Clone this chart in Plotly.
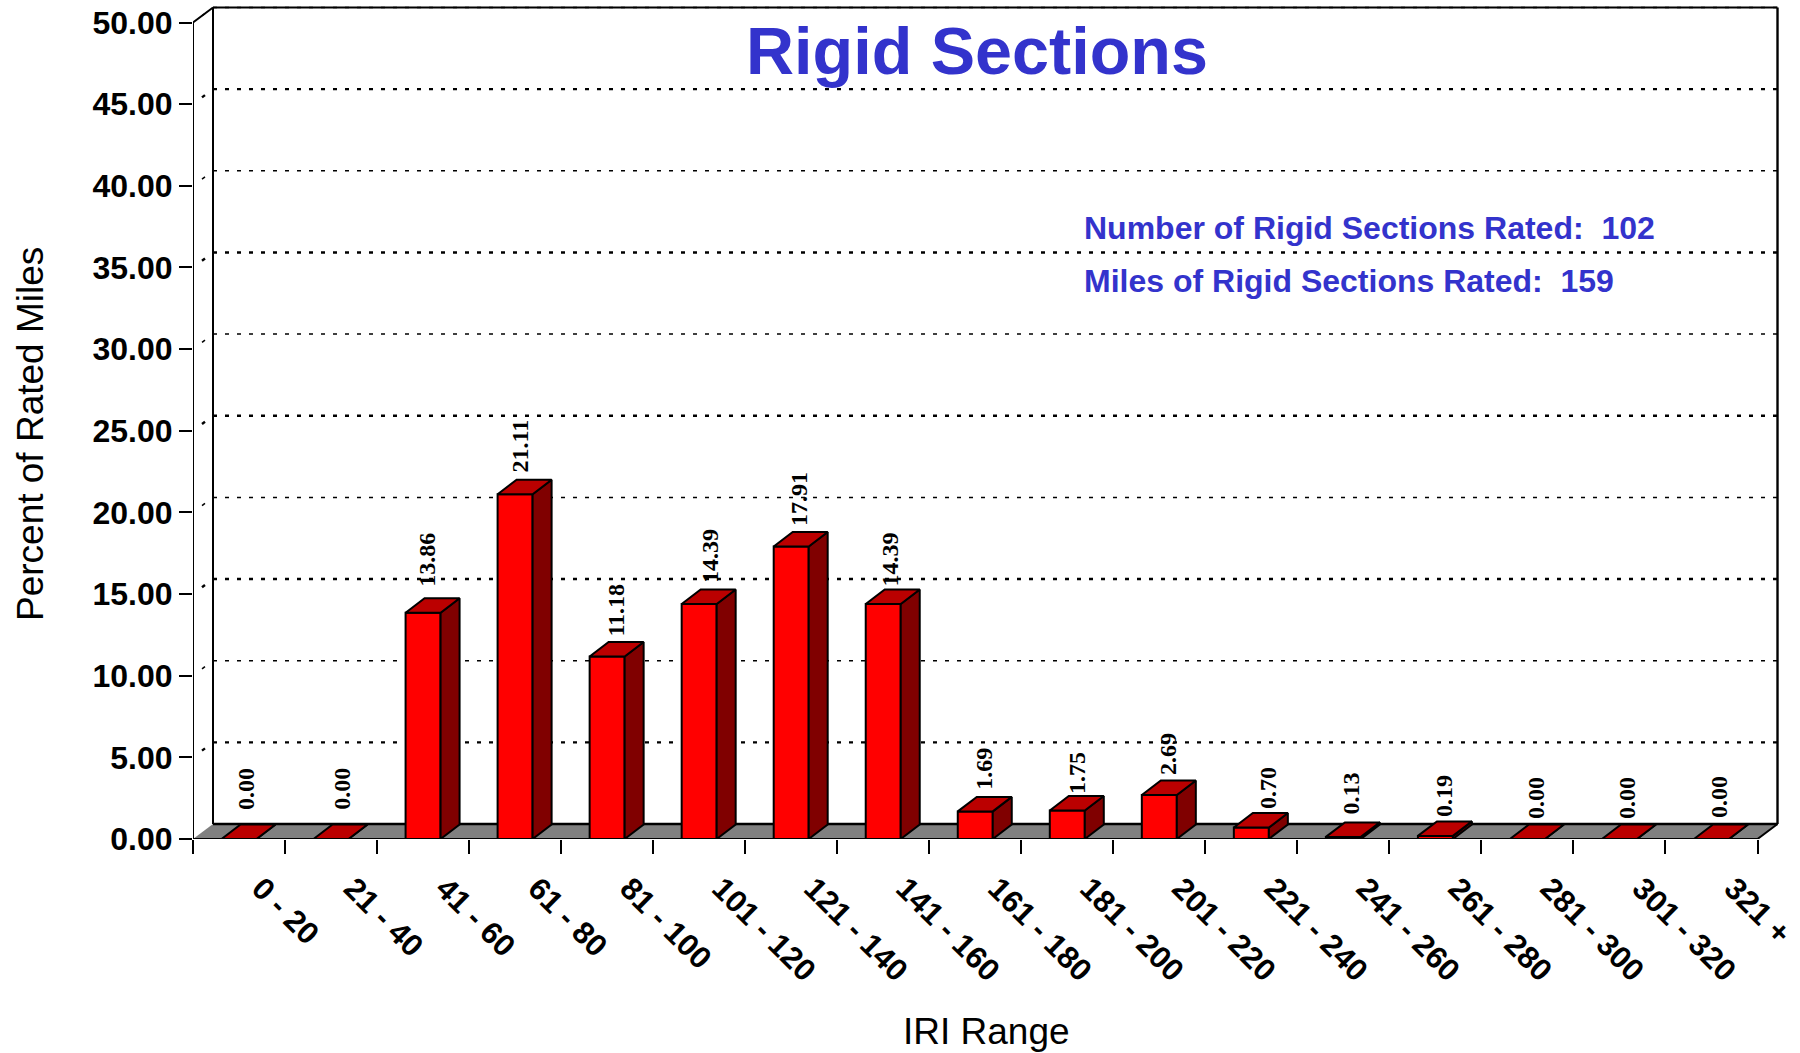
import plotly.graph_objects as go

categories = ["0 - 20", "21 - 40", "41 - 60", "61 - 80", "81 - 100", "101 - 120", "121 - 140", "141 - 160",
              "161 - 180", "181 - 200", "201 - 220", "221 - 240", "241 - 260", "261 - 280", "281 - 300",
              "301 - 320", "321 +"]
percent = [0.00, 0.00, 13.86, 21.11, 11.18, 14.39, 17.91, 14.39, 1.69, 1.75, 2.69, 0.70, 0.13, 0.19, 0.00, 0.00, 0.00]
label_gap = [28, 28, 25, 20.5, 18.5, 20, 19.7, 16.8, 21, 15.2, 19.5, 18, 21.7, 18.4, 19.5, 19.5, 19.5]
label_shift = [7, 10.7, 4, 5, 9, 10.7, 8, 7, 9, 9.6, 8, 16, 8, 8, 8, 7, 7]
y_ticks = [0, 5, 10, 15, 20, 25, 30, 35, 40, 45, 50]

PX_X, PX_Y = 92.03, 16.33
L, R, T, B = 193, 20, 5, 214
W, H = 1800, 1053
XMAX = (W - L - R) / PX_X
YMAX = (H - T - B) / PX_Y
BAR_W = 35 / PX_X
BX, BY = 19 / PX_X, 14.5 / PX_Y      # bar depth
WX, WY = 20 / PX_X, 15 / PX_Y        # chart wall depth
N = len(categories)
RED, DARK, TOP, GRAY, BLUE = "#FF0000", "#800000", "#BB0000", "#808080", "#3333CC"
centers = [i + 0.5 for i in range(N)]

def px(x):
    return (x - L) / (W - L - R)

def py(y):
    return 1 - (y - T) / (H - T - B)

side_x, side_y, top_x, top_y = [], [], [], []
for c, v in zip(centers, percent):
    a, b = c - BAR_W / 2, c + BAR_W / 2
    side_x += [b, b + BX, b + BX, b, b, None]
    side_y += [0, BY, v + BY, v, 0, None]
    top_x += [a, b, b + BX, a + BX, a, None]
    top_y += [v, v, v + BY, v + BY, v, None]

fig = go.Figure()
fig.add_bar(x=centers, y=percent, width=BAR_W, marker=dict(color=RED, line=dict(color="black", width=2)))
fig.add_scatter(x=side_x, y=side_y, mode="lines", fill="toself", fillcolor=DARK, line=dict(color="black", width=2))
fig.add_scatter(x=top_x, y=top_y, mode="lines", fill="toself", fillcolor=TOP, line=dict(color="black", width=2))
# front edges of the chart box, drawn unclipped on the plot border
fig.add_scatter(x=[WX, 0, 0, N, N + WX], y=[50 + WY, 50, 0, 0, WY], mode="lines", cliponaxis=False,
                line=dict(color="black", width=2))

shapes = []
def seg(x0, y0, x1, y1, width=2, dash="solid"):
    shapes.append(dict(type="line", xref="x", yref="y", x0=x0, y0=y0, x1=x1, y1=y1, layer="below",
                       line=dict(color="black", width=width, dash=dash)))

shapes.append(dict(type="path", xref="x", yref="y", layer="below", line=dict(width=0), fillcolor=GRAY,
                   path=f"M0,0 L{N},0 L{N+WX},{WY} L{WX},{WY} Z"))
for t in y_ticks[1:]:
    thick = t % 10 == 5
    seg(WX, t + WY, N + WX, t + WY, 2.4 if thick else 1.5, "4px,8px")
    seg(WX * 0.45, t + WY * 0.45, WX * 0.6, t + WY * 0.6, 2.4 if thick else 1.5)
seg(WX, 0 + WY, N + WX, WY, 2.4)
seg(WX, WY, WX, 50 + WY, 2)
seg(WX, 50 + WY, N + WX, 50 + WY, 2)
seg(N + WX, WY, N + WX, 50 + WY, 2.4)

annotations = []
for c, v, g, s in zip(centers, percent, label_gap, label_shift):
    annotations.append(dict(x=c, y=v, xref="x", yref="y", xshift=s, yshift=g, yanchor="bottom", xanchor="center",
                            text=f"{v:.2f}", textangle=-90, showarrow=False, borderpad=0,
                            font=dict(family="Liberation Serif", size=24, color="black", weight="bold")))
for txt, ypx in [("Number of Rigid Sections Rated:\u00a0\u00a0102", 228), ("Miles of Rigid Sections Rated:\u00a0\u00a0159", 281)]:
    annotations.append(dict(x=px(1082), y=py(ypx), xref="paper", yref="paper", xanchor="left", yanchor="middle",
                            text=txt, showarrow=False, font=dict(family="Liberation Sans", size=32, color=BLUE, weight="bold")))
annotations.append(dict(x=px(986), y=py(1031), xref="paper", yref="paper", text="IRI Range", showarrow=False,
                        xanchor="center", yanchor="middle", font=dict(family="Liberation Sans", size=37, color="black")))
annotations.append(dict(x=px(30), y=py(434), xref="paper", yref="paper", text="Percent of Rated Miles", showarrow=False,
                        textangle=-90, xanchor="center", yanchor="middle", font=dict(family="Liberation Sans", size=37, color="black")))

fig.update_layout(
    width=W, height=H, margin=dict(l=L, r=R, t=T, b=B), showlegend=False,
    paper_bgcolor="white", plot_bgcolor="white", shapes=shapes, annotations=annotations,
    title=dict(text="Rigid Sections", x=977 / W, y=1 - 51 / H, xanchor="center", yanchor="middle", automargin=False,
               font=dict(family="Liberation Sans", size=66.5, color=BLUE, weight="bold")),
    xaxis=dict(range=[0, XMAX], automargin=False, tickmode="array", tickvals=centers, ticktext=categories, tickangle=45,
               ticks="", showgrid=False, zeroline=False, showline=False, ticklabelshift=22, ticklabelstandoff=24,
               tickfont=dict(family="Liberation Sans", size=31, color="black", weight="bold"),
               minor=dict(tickmode="linear", tick0=0, dtick=1, ticks="outside", ticklen=14, tickwidth=2, tickcolor="black", showgrid=False)),
    yaxis=dict(range=[0, YMAX], automargin=False, tickmode="array", tickvals=y_ticks, ticktext=[f"{t:.2f}" for t in y_ticks],
               ticks="outside", ticklen=13, tickwidth=2, tickcolor="black", showgrid=False, zeroline=False, showline=False,
               ticklabelstandoff=0, tickfont=dict(family="Liberation Sans", size=32, color="black", weight="bold")),
)
fig.write_html("out.html", config=dict(displayModeBar=False),
               post_script="document.body.style.margin='0';document.body.style.overflow='hidden';")
